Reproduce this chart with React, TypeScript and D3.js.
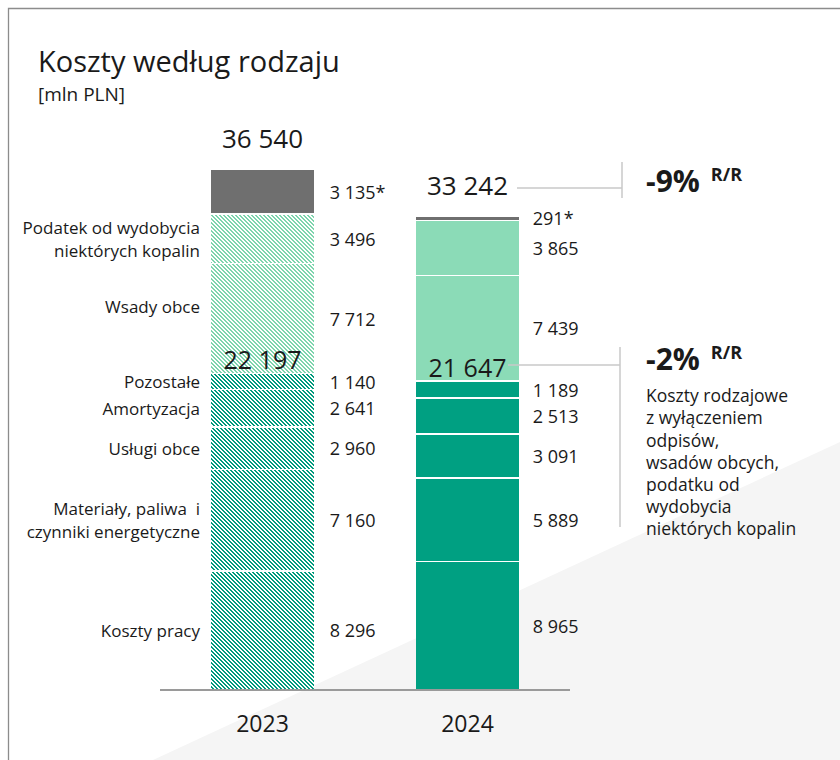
import React from "react";
import * as d3 from "d3";

// Cost structure by type, PLN million
const years = ["2023", "2024"];
const keys = ["praca", "materialy", "uslugi", "amortyzacja", "pozostale", "wsady", "podatek", "inne"];
const categoryLabels = [
  ["Koszty pracy"],
  ["Materiały, paliwa  i", "czynniki energetyczne"],
  ["Usługi obce"],
  ["Amortyzacja"],
  ["Pozostałe"],
  ["Wsady obce"],
  ["Podatek od wydobycia", "niektórych kopalin"],
  [],
];
// core = costs by type excl. write-downs, external inputs and mining tax
const groups = ["core", "core", "core", "core", "core", "external", "external", "other"];
const starred = [false, false, false, false, false, false, false, true];
const values2023 = [8296, 7160, 2960, 2641, 1140, 7712, 3496, 3135];
const values2024 = [8965, 5889, 3091, 2513, 1189, 7439, 3865, 291];
const noteLines = [
  "Koszty rodzajowe",
  "z wyłączeniem",
  "odpisów,",
  "wsadów obcych,",
  "podatku od",
  "wydobycia",
  "niektórych kopalin",
];

const W = 840;
const H = 760;
const FONT = "'Open Sans', 'Noto Sans', sans-serif";
const INK = "#1a1a1a";
const solid: Record<string, string> = { core: "#00a082", external: "#8bdbb7", other: "#6f6f6f" };
const hatchInk: Record<string, string> = { core: "#009a7c", external: "#7dd5ad" };

const fmt = d3
  .formatLocale({ decimal: ",", thousands: " ", grouping: [3], currency: ["", ""] })
  .format(",d");

const table = years.map((yr, i) => {
  const row: Record<string, number | string> = { year: yr };
  const vals = i === 0 ? values2023 : values2024;
  keys.forEach((k, j) => (row[k] = vals[j]));
  return row;
});

const series = d3.stack<any>().keys(keys)(table as any);

const x = d3.scaleBand<string>().domain(years).range([160, 570]).paddingInner(0.5).paddingOuter(0.25);
const totals = years.map((_, i) => d3.sum(i === 0 ? values2023 : values2024));
const y = d3.scaleLinear().domain([0, totals[0]]).range([690, 170]);

const coreSums = years.map((_, i) =>
  d3.sum((i === 0 ? values2023 : values2024).filter((_, j) => groups[j] === "core"))
);

const pct = (a: number, b: number) => Math.round(((b - a) / a) * 100);

// pixel diagonal hatch "\" with a 4px period
const HATCH = 4;
function Hatch({ id, color }: { id: string; color: string }) {
  const cells: JSX.Element[] = [];
  for (let r = 0; r < HATCH; r++) {
    for (let k = 0; k < 2; k++) {
      cells.push(<rect key={`${r}-${k}`} x={(r + k) % HATCH} y={r} width={1} height={1} fill={color} />);
    }
  }
  return (
    <pattern id={id} patternUnits="userSpaceOnUse" width={HATCH} height={HATCH}>
      <rect width={HATCH} height={HATCH} fill="#fff" />
      {cells}
    </pattern>
  );
}

export default function App() {
  const bw = x.bandwidth();
  const labelOffset: Record<string, number> = { wsady: -12 };

  return (
    <div style={{ position: "absolute", left: 0, top: 0 }}>
      <svg width={W} height={H} style={{ display: "block" }} fontFamily={FONT}>
        <defs>
          <Hatch id="hatch-core" color={hatchInk.core} />
          <Hatch id="hatch-external" color={hatchInk.external} />
        </defs>
        <rect width={W} height={H} fill="#fff" />
        <polygon points={`153,${H} ${W},442 ${W},${H}`} fill="#f5f5f5" />
        <path d={`M8.5,${H} V8.5 H${W}`} fill="none" stroke="#8c8c8c" strokeWidth={1.3} />

        <text x={38} y={72} fontSize={29} fill={INK}>Koszty według rodzaju</text>
        <text x={38} y={101} fontSize={19} fill={INK}>[mln PLN]</text>

        {/* stacked bars */}
        {series.map((s, k) =>
          s.map((d, i) => {
            const top = y(d[1]);
            const bottom = y(d[0]);
            const h = bottom - top - (k > 0 ? 1.5 : 0);
            const g = groups[k];
            const fill = i === 0 && g !== "other" ? `url(#hatch-${g})` : solid[g];
            return (
              <rect
                key={`${k}-${i}`}
                x={x(years[i])}
                y={top}
                width={bw}
                height={Math.max(h, 0)}
                fill={fill}
                shapeRendering="crispEdges"
              />
            );
          })
        )}

        {/* value labels */}
        {series.map((s, k) =>
          s.map((d, i) => (
            <text
              key={`v-${k}-${i}`}
              x={(x(years[i]) as number) + bw + (i === 0 ? 16 : 14)}
              y={(y(d[0]) + y(d[1])) / 2}
              dy="0.35em"
              fontSize={18}
              fill={INK}
            >
              {fmt(d[1] - d[0]) + (starred[k] ? "*" : "")}
            </text>
          ))
        )}

        {/* category labels */}
        {series.map((s, k) => {
          const d = s[0];
          const cy = (y(d[0]) + y(d[1])) / 2 + (labelOffset[keys[k]] || 0);
          const lines = categoryLabels[k];
          const lh = 23;
          return lines.map((ln, j) => (
            <text
              key={`c-${k}-${j}`}
              x={200}
              y={cy + (j - (lines.length - 1) / 2) * lh}
              dy="0.35em"
              textAnchor="end"
              fontSize={17}
              fill={INK}
              style={{ whiteSpace: "pre" }}
            >
              {ln}
            </text>
          ));
        })}

        {/* totals and subtotals */}
        {years.map((yr, i) => (
          <g key={`t-${yr}`}>
            <text x={(x(yr) as number) + bw / 2} y={y(totals[i]) - 22} textAnchor="middle" fontSize={26} fill={INK}>
              {fmt(totals[i])}
            </text>
            <text x={(x(yr) as number) + bw / 2} y={y(coreSums[i]) - 5} textAnchor="middle" fontSize={25} fill={INK}>
              {fmt(coreSums[i])}
            </text>
          </g>
        ))}

        {/* axis */}
        <line x1={160} x2={570} y1={690} y2={690} stroke="#9a9a9a" strokeWidth={2} />
        {years.map((yr) => (
          <text key={`yr-${yr}`} x={(x(yr) as number) + bw / 2} y={732} textAnchor="middle" fontSize={23} fill={INK}>
            {yr}
          </text>
        ))}

        {/* year-on-year change connectors */}
        <g stroke="#c9c9c9" strokeWidth={1.5} fill="none">
          <path d={`M517,${y(totals[1]) - 29} H622`} />
          <path d={`M622,162 V198`} />
          <path d={`M508,${y(coreSums[1]) - 17} H620`} />
          <path d={`M620,347 V527`} />
        </g>
        <text x={646} y={192} fontSize={30} fontWeight="bold" fill={INK}>
          {pct(totals[0], totals[1])}%
          <tspan dx={11} dy={-11} fontSize={18}>R/R</tspan>
        </text>
        <text x={646} y={370} fontSize={30} fontWeight="bold" fill={INK}>
          {pct(coreSums[0], coreSums[1])}%
          <tspan dx={11} dy={-11} fontSize={18}>R/R</tspan>
        </text>
        {noteLines.map((ln, j) => (
          <text key={`n-${j}`} x={646} y={396 + j * 22.2} dy="0.35em" fontSize={17.5} fill={INK}>
            {ln}
          </text>
        ))}
      </svg>
    </div>
  );
}
